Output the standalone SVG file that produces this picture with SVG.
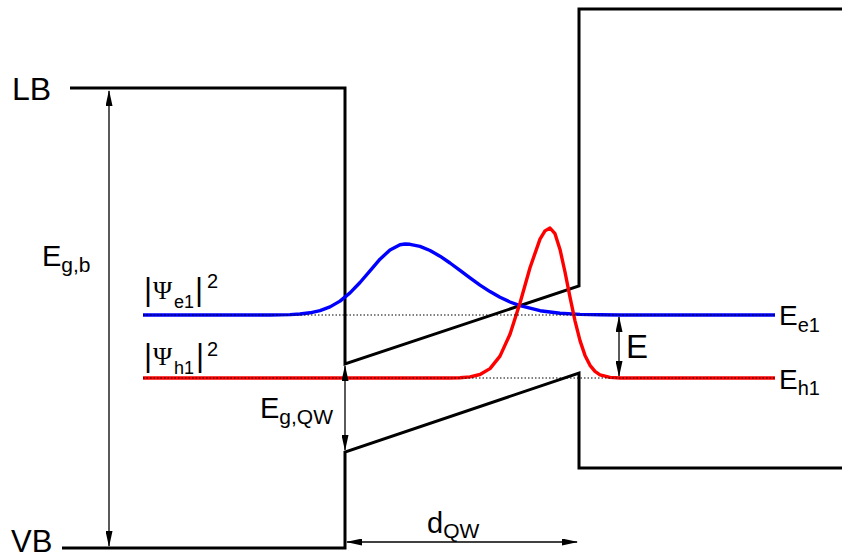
<svg xmlns="http://www.w3.org/2000/svg" width="842" height="558" viewBox="0 0 842 558">
<style>
.band{fill:none;stroke:#000;stroke-width:3;stroke-linejoin:miter}
.dot{fill:none;stroke:#000;stroke-width:1;stroke-dasharray:1.5 2}
.arr{fill:none;stroke:#000;stroke-width:1.3;marker-start:url(#ah);marker-end:url(#ah)}
.wf{fill:none;stroke-width:3.4;stroke-linejoin:round}
text{font-family:"Liberation Sans",Arial,Helvetica,sans-serif;fill:#000}
.psi{font-family:"Liberation Serif","Times New Roman",serif}
</style>
<defs>
<marker id="ah" viewBox="0 0 16 7" refX="15" refY="3.5" markerWidth="16" markerHeight="7" markerUnits="userSpaceOnUse" orient="auto-start-reverse">
<path d="M0,0 L16,3.5 L0,7 Z" fill="#000"/>
</marker>
</defs>
<rect width="842" height="558" fill="#fff"/>
<g id="bands">
<path id="conduction-band" class="band" d="M70,88 H345 V364 L579,286 V9 H842"/>
<path id="valence-band" class="band" d="M62,548 H345 V452 L579,373 V468 H842"/>
</g>
<g id="wavefunctions">
<path id="psi-e1" class="wf" stroke="#0000ff" d="M143,315 H270 L290,314.6 L300,314 L310,312.8 L320,310.6 L330,306.9 L340,301.1 L350,292.9 L360,282.5 L370,270.8 L380,259.2 L390,249.9 L400,244.7 L405,244 L410,244.3 L420,246.4 L430,250.5 L440,256.2 L450,263 L460,270.4 L470,277.9 L480,285.1 L490,291.6 L500,297.3 L510,302 L520,305.7 L540,310.7 L560,313.2 L580,314.4 L600,314.8 L620,315 H775"/>
<path id="psi-h1" class="wf" stroke="#ff0000" d="M143,378 H450 L460,377.7 L470,376.9 L480,374.5 L490,368.6 L500,356.1 L510,334.2 L520,303 L530,267.7 L540,239.1 L545,230.9 L550,228 L555,233.7 L560,249.4 L565,272 L570,297.1 L575,320.8 L580,340.6 L585,355.4 L590,365.3 L595,371.4 L600,374.8 L610,377.4 L620,378 H775"/>
</g>
<g id="levels">
<line class="dot" x1="143" y1="315" x2="775" y2="315"/>
<line class="dot" x1="143" y1="378" x2="775" y2="378"/>
</g>
<g id="connectors">
<line id="arrow-Egb" class="arr" x1="109" y1="91" x2="109" y2="546"/>
<line id="arrow-EgQW" class="arr" x1="345" y1="366" x2="345" y2="450"/>
<line id="arrow-E" class="arr" x1="619" y1="317" x2="619" y2="376"/>
<line id="arrow-dQW" class="arr" x1="347" y1="542" x2="577" y2="542"/>
</g>
<g id="labels">
<text id="LB" x="12" y="100" font-size="32">LB</text>
<text id="VB" x="11" y="552" font-size="31">VB</text>
<text id="Egb" x="42" y="266" font-size="29">E<tspan font-size="21" dy="6">g,b</tspan></text>
<g id="label-psi-e1">
<text x="144" y="300" font-size="31" fill="#0000ff">|</text>
<text class="psi" x="153" y="299" font-size="26" fill="#0000ff">Ψ</text>
<text x="174" y="308" font-size="18" fill="#0000ff">e1</text>
<text x="195" y="300" font-size="31" fill="#0000ff">|</text>
<text x="207" y="288" font-size="20" fill="#0000ff">2</text>
</g>
<g id="label-psi-h1">
<text x="144" y="366" font-size="31" fill="#ff0000">|</text>
<text class="psi" x="153" y="365" font-size="26" fill="#ff0000">Ψ</text>
<text x="174" y="374" font-size="18" fill="#ff0000">h1</text>
<text x="196" y="366" font-size="31" fill="#ff0000">|</text>
<text x="207" y="356" font-size="20" fill="#ff0000">2</text>
</g>
<text id="Ee1" x="779" y="325" font-size="28">E<tspan font-size="20" dy="7">e1</tspan></text>
<text id="Eh1" x="779" y="389" font-size="28">E<tspan font-size="20" dy="6">h1</tspan></text>
<text id="E" x="626" y="358" font-size="33">E</text>
<text id="EgQW" x="260" y="418" font-size="29">E<tspan font-size="21" dy="6">g,QW</tspan></text>
<text id="dQW" x="427" y="533" font-size="29">d<tspan font-size="21" dy="5">QW</tspan></text>
</g>
</svg>
